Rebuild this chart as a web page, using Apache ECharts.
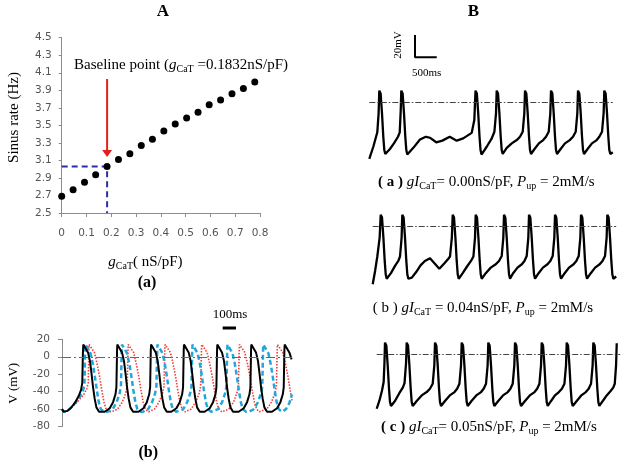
<!DOCTYPE html>
<html><head><meta charset="utf-8">
<script src="https://cdn.jsdelivr.net/npm/echarts@6/dist/echarts.min.js"></script>
<style>html,body{margin:0;padding:0;background:#fff}#c{width:624px;height:464px}</style>
</head><body><div id="c"></div>
<script>
// ---------- Panel A (a): sinus rate vs gCaT ----------
const gCaT = [0, 0.046, 0.092, 0.137, 0.183, 0.229, 0.275, 0.321, 0.366, 0.412, 0.458, 0.504, 0.550, 0.595, 0.641, 0.687, 0.733, 0.779];
const sinusRate = [2.69, 2.765, 2.85, 2.935, 3.03, 3.11, 3.175, 3.27, 3.34, 3.435, 3.515, 3.585, 3.65, 3.735, 3.79, 3.86, 3.92, 3.995];
const baselineG = 0.1832;
const baselineRate = 3.03;
const arrowTop = 4.03, arrowTip = 3.18;
const rateTicks = {min: 2.5, max: 4.5, step: 0.2};
const gTicks = {min: 0, max: 0.8, step: 0.1};

// ---------- Panel A (b): membrane potential traces [ms, mV] ----------
const vTicks = {min: -80, max: 20, step: 20};
const traceBlack = [
[0,-60],[12,-63],[40,-62],[70,-58],[100,-52],[125,-45],[143,-38],[152,-30],[157,5],[160,14],
[175,12],[195,5],[210,-5],[222,-20],[233,-35],[245,-48],[258,-58],[278,-63],
[320,-63],[358,-59],[383,-52],[401,-43],[408,-35],[413,8],[415,14],
[430,12],[450,5],[465,-5],[477,-20],[488,-35],[500,-48],[513,-58],[533,-63],
[573,-63],[611,-59],[636,-52],[654,-43],[661,-35],[666,8],[668,14],
[683,12],[703,5],[718,-5],[730,-20],[741,-35],[753,-48],[766,-58],[786,-63],
[820,-63],[858,-59],[883,-52],[901,-43],[908,-35],[913,8],[915,14],
[930,12],[950,5],[965,-5],[977,-20],[988,-35],[1000,-48],[1013,-58],[1033,-63],
[1070,-63],[1108,-59],[1133,-52],[1151,-43],[1158,-35],[1163,8],[1165,14],
[1180,12],[1200,5],[1215,-5],[1227,-20],[1238,-35],[1250,-48],[1263,-58],[1283,-63],
[1325,-63],[1363,-59],[1388,-52],[1406,-43],[1413,-35],[1418,8],[1420,14],
[1435,12],[1455,5],[1470,-5],[1482,-20],[1493,-35],[1505,-48],[1518,-58],[1538,-63],
[1575,-63],[1613,-59],[1638,-52],[1656,-43],[1663,-35],[1668,8],[1670,14],
[1685,12],[1705,5],[1722,-3]
];
const traceCyan = [
[0,-60],[12,-63],[40,-62],[70,-58],[100,-53],[130,-47],[155,-40],[168,-33],[174,8],[176,14],
[191,12],[214,4],[231,-8],[246,-22],[261,-38],[276,-52],[291,-60],[316,-63],
[340,-63],[380,-60],[410,-52],[432,-42],[442,-34],[448,8],[450,14],
[465,12],[488,4],[505,-8],[520,-22],[535,-38],[550,-52],[565,-60],[590,-63],
[606,-63],[646,-60],[676,-52],[698,-42],[708,-34],[714,8],[716,14],
[731,12],[754,4],[771,-8],[786,-22],[801,-38],[816,-52],[831,-60],[856,-63],
[869,-63],[909,-60],[939,-52],[961,-42],[971,-34],[977,8],[979,14],
[994,12],[1017,4],[1034,-8],[1049,-22],[1064,-38],[1079,-52],[1094,-60],[1119,-63],
[1131,-63],[1171,-60],[1201,-52],[1223,-42],[1233,-34],[1239,8],[1241,14],
[1256,12],[1279,4],[1296,-8],[1311,-22],[1326,-38],[1341,-52],[1356,-60],[1381,-63],
[1400,-63],[1440,-60],[1470,-52],[1492,-42],[1502,-34],[1508,8],[1510,14],
[1525,12],[1548,4],[1565,-8],[1580,-22],[1595,-38],[1610,-52],[1625,-60],[1650,-63],
[1680,-60],[1705,-53],[1725,-43]
];
const traceRed = [
[0,-60],[12,-63],[40,-62],[70,-58],[100,-54],[130,-49],[160,-44],[185,-37],[197,-30],[201,8],[203,14],
[218,13],[243,5],[263,-8],[281,-22],[298,-38],[315,-52],[331,-60],[353,-63],
[372,-63],[417,-60],[452,-52],[477,-42],[489,-34],[495,8],[497,14],
[512,13],[537,5],[557,-8],[575,-22],[592,-38],[609,-52],[625,-60],[650,-63],
[693,-60],[728,-52],[753,-42],[765,-34],[771,8],[773,14],
[788,13],[813,5],[833,-8],[851,-22],[868,-38],[885,-52],[901,-60],[923,-63],
[968,-60],[1003,-52],[1028,-42],[1040,-34],[1046,8],[1048,14],
[1063,13],[1088,5],[1108,-8],[1126,-22],[1143,-38],[1160,-52],[1176,-60],[1198,-63],
[1206,-63],[1251,-60],[1286,-52],[1311,-42],[1323,-34],[1329,8],[1331,14],
[1346,13],[1371,5],[1391,-8],[1409,-22],[1426,-38],[1443,-52],[1459,-60],[1481,-63],
[1491,-63],[1536,-60],[1571,-52],[1596,-42],[1608,-34],[1614,8],[1616,14],
[1631,13],[1656,5],[1676,-8],[1694,-22],[1711,-38],[1725,-50]
];
const scaleBar100 = {t: 1205, v: 33, dt: 100};

// ---------- Panel B traces [ms, mV] ----------
const traceBa = [
[0,-51],[92,-40],[184,-27],[214,-10],[230,10.5],
[260,8],[292,-10],[322,-31],[345,-43],[368,-46.5],[395,-48],
[474,-42],[566,-37],[660,-31],[700,-27],[722,-8],[736,10.5],
[766,8],[798,-10],[828,-31],[851,-43],[874,-47],[902,-48],
[1012,-41],[1166,-33.5],[1300,-31],[1400,-32],[1540,-36],[1680,-34.5],[1850,-31],[2010,-34.5],[2160,-32.5],[2355,-27.5],[2415,-16],[2443,10.5],
[2473,8],[2505,-10],[2535,-31],[2558,-43],[2581,-47],[2605,-48],
[2700,-40],[2810,-33],[2877,-26.5],[2914,-10],[2930,10.5],
[2960,8],[2992,-10],[3022,-31],[3045,-43],[3068,-46.5],[3095,-47],
[3161,-41],[3276,-37],[3391,-34],[3466,-31],[3528,-26.5],[3565,-10],[3581,10.5],
[3611,8],[3643,-10],[3673,-31],[3696,-43],[3719,-46.5],[3746,-47],
[3800,-42],[3900,-37],[4000,-34],[4064,-31],[4126,-26.5],[4163,-10],[4179,10.5],
[4209,8],[4241,-10],[4271,-31],[4294,-43],[4317,-46.5],[4344,-47],
[4400,-42],[4500,-37],[4610,-34],[4685,-31],[4747,-26.5],[4784,-10],[4800,10.5],
[4830,8],[4862,-10],[4892,-31],[4915,-43],[4938,-46.5],[4965,-47],
[5020,-42],[5120,-37],[5230,-34],[5290,-31],[5352,-26.5],[5389,-10],[5405,10.5],
[5435,8],[5467,-10],[5497,-31],[5520,-43],[5543,-46.5],[5570,-47],[5600,-45]
];
const traceBb = [
[0,-52],[55,-40],[106,-27],[160,-10],[184,10.5],
[214,8],[246,-10],[276,-31],[299,-43],[322,-47],[350,-48],
[420,-42],[520,-35],[590,-31],[628,-27],[665,-10],[681,10.5],
[711,8],[743,-10],[773,-31],[796,-43],[819,-47],[850,-48],
[900,-46],[1000,-41],[1100,-35],[1200,-31],[1318,-28.5],[1420,-33],[1532,-38],[1650,-33],[1740,-29],[1778,-27],[1820,-10],[1840,10.5],
[1870,8],[1902,-10],[1932,-31],[1955,-43],[1978,-47],[2005,-48],
[2070,-42],[2170,-36],[2260,-31],[2316,-27],[2353,-10],[2369,10.5],
[2399,8],[2431,-10],[2461,-31],[2484,-43],[2507,-47],[2535,-48],
[2600,-42],[2715,-37],[2830,-34],[2905,-31],[2967,-26.5],[3004,-10],[3020,10.5],
[3050,8],[3082,-10],[3112,-31],[3135,-43],[3158,-47],[3185,-47.5],
[3230,-42],[3330,-37],[3430,-34],[3490,-31],[3542,-26.5],[3579,-10],[3595,10.5],
[3625,8],[3657,-10],[3687,-31],[3710,-43],[3733,-47],[3760,-47.5],
[3815,-42],[3915,-37],[4020,-34],[4085,-31],[4140,-26.5],[4177,-10],[4193,10.5],
[4223,8],[4255,-10],[4285,-31],[4308,-43],[4331,-47],[4358,-47.5],
[4415,-42],[4515,-37],[4620,-34],[4683,-31],[4738,-26.5],[4775,-10],[4791,10.5],
[4821,8],[4853,-10],[4883,-31],[4906,-43],[4929,-47],[4956,-47.5],
[5015,-42],[5115,-37],[5220,-34],[5285,-31],[5343,-26.5],[5380,-10],[5396,10.5],
[5426,8],[5458,-10],[5488,-31],[5511,-43],[5534,-47],[5560,-47.5],[5600,-45]
];
const traceBc = [
[0,-49],[60,-42],[120,-33],[160,-25],[178,-8],[191,10.5],
[221,8],[253,-10],[283,-31],[306,-43],[329,-46.5],[356,-47],
[420,-42],[520,-35],[600,-30],[640,-26],[675,-8],[690,10.5],
[720,8],[752,-10],[782,-31],[805,-43],[828,-46.5],[855,-47],
[920,-42],[1035,-37],[1150,-34],[1225,-31],[1288,-26.5],[1325,-10],[1341,10.5],
[1371,8],[1403,-10],[1433,-31],[1456,-43],[1479,-46.5],[1506,-47],
[1570,-42],[1680,-37],[1790,-34],[1850,-31],[1902,-26.5],[1939,-10],[1955,10.5],
[1985,8],[2017,-10],[2047,-31],[2070,-43],[2093,-46.5],[2120,-47],
[2180,-42],[2290,-37],[2400,-34],[2460,-31],[2514,-26.5],[2551,-10],[2567,10.5],
[2597,8],[2629,-10],[2659,-31],[2682,-43],[2705,-46.5],[2732,-47],
[2795,-42],[2905,-37],[3015,-34],[3075,-31],[3128,-26.5],[3165,-10],[3181,10.5],
[3211,8],[3243,-10],[3273,-31],[3296,-43],[3319,-46.5],[3346,-47],
[3410,-42],[3520,-37],[3630,-34],[3690,-31],[3742,-26.5],[3779,-10],[3795,10.5],
[3825,8],[3857,-10],[3887,-31],[3910,-43],[3933,-46.5],[3960,-47],
[4010,-42],[4100,-37],[4190,-34],[4260,-31],[4317,-26.5],[4354,-10],[4370,10.5],
[4400,8],[4432,-10],[4462,-31],[4485,-43],[4508,-46.5],[4535,-47],
[4600,-42],[4705,-37],[4810,-34],[4875,-31],[4929,-26.5],[4966,-10],[4982,10.5],
[5012,8],[5044,-10],[5074,-31],[5097,-43],[5120,-46.5],[5147,-47],
[5200,-42],[5290,-37],[5380,-33],[5440,-30],[5475,-26.5],[5505,-10],[5520,10]
];
const scaleBarB = {t: 1051, v: 40.5, dt: 500, dv: 20};
const bRange = {tMax: 5600, vMin: -55, vMax: 15};

// ---------- chart ----------
const serif = 'Liberation Serif';
const sans = 'DejaVu Sans';
const labelColor = '#555';
const axisGray = '#8c8c8c';

const chart = echarts.init(document.getElementById('c'), null, {renderer: 'canvas'});

function rich(size) {
  return {
    n: {fontFamily: serif, fontSize: size, lineHeight: 18, fill: '#000', color: '#000'},
    b: {fontFamily: serif, fontSize: size, fontWeight: 'bold', lineHeight: 18, fill: '#000', color: '#000'},
    i: {fontFamily: serif, fontSize: size, fontStyle: 'italic', lineHeight: 18, fill: '#000', color: '#000'},
    s: {fontFamily: serif, fontSize: 10, lineHeight: 10, verticalAlign: 'bottom', fill: '#000', color: '#000'}
  };
}
function txt(x, y, text, opts) {
  opts = opts || {};
  return {
    type: 'text', x: x, y: y, rotation: opts.rotation || 0, silent: true,
    style: Object.assign({
      text: text, fontFamily: serif, fontSize: opts.size || 15,
      fontWeight: opts.bold ? 'bold' : 'normal', fill: '#000',
      align: opts.align || 'center', verticalAlign: 'middle'
    }, opts.rich ? {rich: opts.rich} : {})
  };
}

const bHeight = (bRange.vMax - bRange.vMin) / 0.9;
const bGridTops = [102.3, 226.5, 354.3].map(z => z - bRange.vMax / 0.9);
const bGridLefts = [369.3, 372.7, 376.7];

const grids = [
  {left: 61.7, top: 37.7, width: 198.3, height: 175.3},
  {left: 62, top: 339.3, width: 230, height: 87.3}
].concat(bGridTops.map((t, i) => ({left: bGridLefts[i], top: t, width: 243.5, height: bHeight})));

const xAxes = [
  {gridIndex: 0, type: 'value', min: gTicks.min, max: gTicks.max, interval: gTicks.step,
   axisLine: {lineStyle: {color: axisGray, width: 1}}, axisTick: {length: 4, lineStyle: {color: axisGray}},
   splitLine: {show: false},
   axisLabel: {color: labelColor, fontFamily: sans, fontSize: 10.5, margin: 15, formatter: v => String(Math.round(v * 10) / 10)}},
  {gridIndex: 1, type: 'value', min: 0, max: 1725, show: false}
];
const yAxes = [
  {gridIndex: 0, type: 'value', min: rateTicks.min, max: rateTicks.max, interval: rateTicks.step,
   axisLine: {show: true, lineStyle: {color: axisGray, width: 1}}, axisTick: {show: true, length: 3, lineStyle: {color: axisGray}},
   splitLine: {show: false},
   axisLabel: {color: labelColor, fontFamily: sans, fontSize: 10.5, margin: 10, formatter: v => v.toFixed(1)}},
  {gridIndex: 1, type: 'value', min: vTicks.min, max: vTicks.max, interval: vTicks.step,
   axisLine: {show: true, lineStyle: {color: axisGray, width: 1}}, axisTick: {show: true, length: 4, lineStyle: {color: axisGray}},
   splitLine: {show: false},
   axisLabel: {color: labelColor, fontFamily: sans, fontSize: 10.5, margin: 12}}
];
for (let i = 0; i < 3; i++) {
  xAxes.push({gridIndex: 2 + i, type: 'value', min: 0, max: bRange.tMax, show: false});
  yAxes.push({gridIndex: 2 + i, type: 'value', min: bRange.vMin, max: bRange.vMax, show: false});
}

const dashDotB = {color: '#444', width: 1, type: [6, 2, 1.5, 2]};
function zeroLine(style) {
  return {silent: true, symbol: 'none', label: {show: false}, lineStyle: style, data: [{yAxis: 0}], animation: false};
}

const series = [
  {type: 'line', xAxisIndex: 0, yAxisIndex: 0, symbol: 'none', z: 2,
   data: [[gTicks.min, baselineRate], [baselineG, baselineRate], [baselineG, rateTicks.min]],
   lineStyle: {color: '#2c2cae', width: 2, type: [6, 4]}},
  {type: 'line', xAxisIndex: 0, yAxisIndex: 0, z: 3,
   data: [{value: [baselineG, arrowTop], symbol: 'none'},
          {value: [baselineG, arrowTip], symbol: 'triangle', symbolSize: [10, 7], symbolRotate: 180}],
   lineStyle: {color: '#e3201b', width: 2}, itemStyle: {color: '#e3201b', opacity: 1}},
  {type: 'scatter', xAxisIndex: 0, yAxisIndex: 0, z: 4, symbol: 'circle', symbolSize: 7,
   itemStyle: {color: '#000', opacity: 1}, data: gCaT.map((g, i) => [g, sinusRate[i]])},
  {type: 'line', xAxisIndex: 1, yAxisIndex: 1, symbol: 'none', data: traceRed,
   lineStyle: {color: '#f23a3a', width: 1.6, type: [1.5, 1.5]},
   markLine: zeroLine({color: '#666', width: 1, type: [9, 3, 2, 3]})},
  {type: 'line', xAxisIndex: 1, yAxisIndex: 1, symbol: 'none', data: traceCyan,
   lineStyle: {color: '#22a6db', width: 2.5, type: [5, 3]}},
  {type: 'line', xAxisIndex: 1, yAxisIndex: 1, symbol: 'none', data: traceBlack,
   lineStyle: {color: '#000', width: 2}},
  {type: 'line', xAxisIndex: 1, yAxisIndex: 1, symbol: 'none', clip: false,
   data: [[scaleBar100.t, scaleBar100.v], [scaleBar100.t + scaleBar100.dt, scaleBar100.v]],
   lineStyle: {color: '#000', width: 3}}
];
[traceBa, traceBb, traceBc].forEach((tr, i) => {
  series.push({type: 'line', xAxisIndex: 2 + i, yAxisIndex: 2 + i, symbol: 'none', data: tr,
    lineStyle: {color: '#000', width: 2.3}, markLine: zeroLine(dashDotB)});
});
series.push({type: 'line', xAxisIndex: 2, yAxisIndex: 2, symbol: 'none', clip: false,
  data: [[scaleBarB.t, scaleBarB.v + scaleBarB.dv], [scaleBarB.t, scaleBarB.v], [scaleBarB.t + scaleBarB.dt, scaleBarB.v]],
  lineStyle: {color: '#000', width: 2}});

const graphics = [
  txt(163, 12, 'A', {bold: true, size: 17}),
  txt(473.5, 12, 'B', {bold: true, size: 17}),
  txt(14, 117.5, 'Sinus rate (Hz)', {rotation: Math.PI / 2}),
  txt(74, 65, '{n|Baseline point (}{i|g}{s|CaT}{n| =0.1832nS/pF)}', {align: 'left', rich: rich(15)}),
  txt(108.3, 262, '{i|g}{s|CaT}{n|( nS/pF)}', {align: 'left', rich: rich(15)}),
  txt(147, 283, '(a)', {bold: true, size: 16}),
  txt(230, 315, '100ms', {size: 13}),
  txt(13.3, 383.3, 'V (mV)', {rotation: Math.PI / 2, size: 13}),
  txt(148.3, 452.7, '(b)', {bold: true, size: 16}),
  txt(398.3, 45, '20mV', {rotation: Math.PI / 2, size: 11}),
  txt(426.7, 72.7, '500ms', {size: 11}),
  txt(378, 182, '{b|( a ) }{i|gI}{s|CaT}{n|= 0.00nS/pF, }{i|P}{s|up}{n| = 2mM/s}', {align: 'left', rich: rich(15)}),
  txt(372.7, 308, '{n|( b ) }{i|gI}{s|CaT}{n| = 0.04nS/pF, }{i|P}{s|up}{n| = 2mM/s}', {align: 'left', rich: rich(15)}),
  txt(381, 427.3, '{b|( c ) }{i|gI}{s|CaT}{n|= 0.05nS/pF, }{i|P}{s|up}{n| = 2mM/s}', {align: 'left', rich: rich(15)})
];

chart.setOption({
  animation: false,
  backgroundColor: '#fff',
  grid: grids,
  xAxis: xAxes,
  yAxis: yAxes,
  series: series,
  graphic: graphics
});
</script></body></html>
